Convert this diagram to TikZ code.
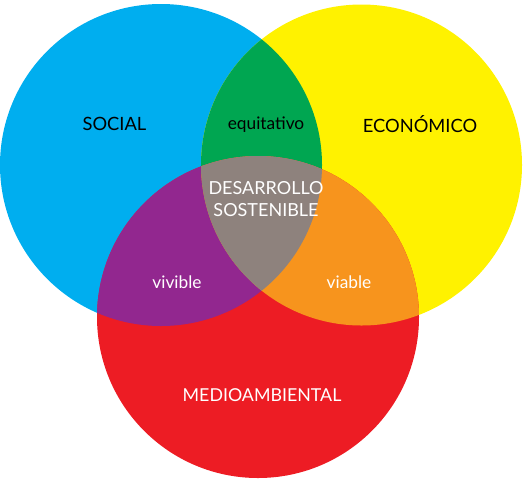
\documentclass[tikz,border=0pt]{standalone}
\usepackage{fontspec}
\setmainfont{Lato}
\definecolor{cblue}{HTML}{00AEEF}
\definecolor{cyellow}{HTML}{FFF200}
\definecolor{cred}{HTML}{ED1C24}
\definecolor{cgreen}{HTML}{00A651}
\definecolor{cpurple}{HTML}{92278F}
\definecolor{corange}{HTML}{F7941D}
\definecolor{cgray}{HTML}{8E827D}
\begin{document}
\begin{tikzpicture}[x=1pt,y=-1pt,
  lbl/.style={inner sep=0pt,font=\fontsize{18.3}{21}\selectfont},
  sml/.style={inner sep=0pt,font=\fontsize{17.3}{20}\selectfont}]
\useasboundingbox (0,0) rectangle (526,480);
\def\blue{(161,165) circle (161)}
\def\yel{(361.5,165) circle (160.5)}
\def\red{(258,317) circle (161)}
\fill[cblue] \blue;
\fill[cyellow] \yel;
\fill[cred] \red;
\begin{scope}\clip \blue; \fill[cgreen] \yel; \end{scope}
\begin{scope}\clip \blue; \fill[cpurple] \red; \end{scope}
\begin{scope}\clip \yel; \fill[corange] \red; \end{scope}
\begin{scope}\clip \blue; \clip \yel; \fill[cgray] \red; \end{scope}
\node[lbl] (soc) at (114.5,124) {SOCIAL};
\node[lbl] (eco) at (420,124) {ECONÓMICO};
\node[sml,anchor=base] (equ) at (266,129) {equitativo};
\node[lbl,white,align=center,font=\fontsize{18}{21.5}\selectfont] (ds) at (266,199) {DESARROLLO\\SOSTENIBLE};
\node[sml,white,anchor=base] (viv) at (177,288) {vivible};
\node[sml,white,anchor=base] (via) at (349,288) {viable};
\node[lbl,white,font=\fontsize{17.8}{21}\selectfont] (med) at (262,395) {MEDIOAMBIENTAL};
\end{tikzpicture}
\end{document}
